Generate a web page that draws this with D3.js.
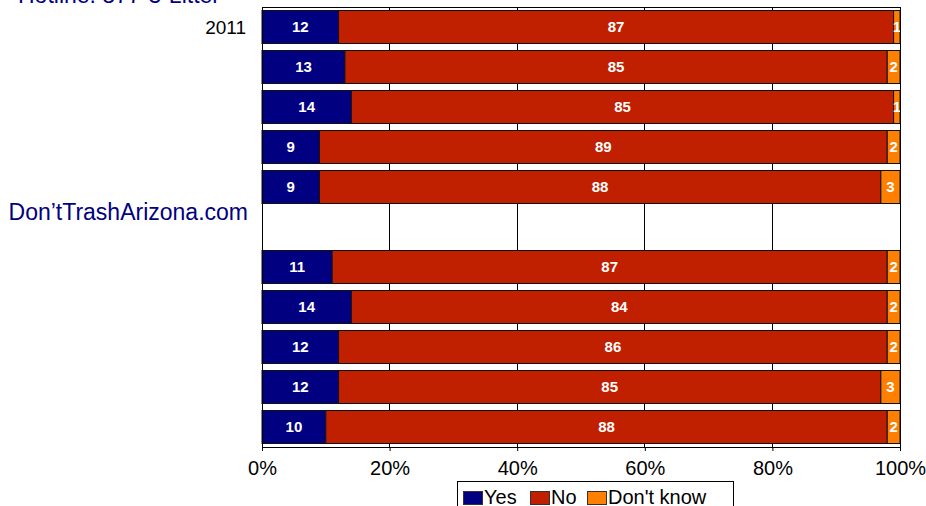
<!DOCTYPE html>
<html>
<head>
<meta charset="utf-8">
<script src="https://cdn.jsdelivr.net/npm/d3@7/dist/d3.min.js"></script>
<style>
  html, body { margin: 0; padding: 0; background: #fff; }
  svg { display: block; font-family: "Liberation Sans", Arial, sans-serif; }
</style>
</head>
<body>
<svg id="chart" width="926" height="506"></svg>
<script>
// ---- data ----
const rowLabels = ["2011", "", "", "", "", "Don\u2019tTrashArizona.com", "", "", "", "", ""];
const yesValues = [12, 13, 14, 9, 9, null, 11, 14, 12, 12, 10];
const noValues  = [87, 85, 85, 89, 88, null, 87, 84, 86, 85, 88];
const dkValues  = [1, 2, 1, 2, 3, null, 2, 2, 2, 3, 2];
const seriesNames = ["Yes", "No", "Don't know"];
const seriesColors = ["#000080", "#C02000", "#FF8000"];
const xTicks = [0, 20, 40, 60, 80, 100];
const headerText = "Hotline: 877-3-Litter";

// ---- layout ----
const svg = d3.select("#chart");
const plot = { left: 262, right: 900, top: 7, bottom: 447 };
const rows = rowLabels.map((d, i) => i);

const x = d3.scaleLinear().domain([0, 100]).range([plot.left, plot.right]);
const y = d3.scaleBand().domain(rows).range([plot.top, plot.bottom])
  .paddingInner(0.175).paddingOuter(0.0875);

const data = rows.map(i => ({ i, Yes: yesValues[i], No: noValues[i], "Don't know": dkValues[i] }))
  .filter(d => d.Yes !== null);
const stack = d3.stack().keys(seriesNames)(data);

// gridlines
svg.append("g").selectAll("line").data(xTicks.slice(1, -1)).join("line")
  .attr("x1", d => x(d)).attr("x2", d => x(d))
  .attr("y1", plot.top).attr("y2", plot.bottom)
  .attr("stroke", "#000").attr("stroke-width", 1).attr("shape-rendering", "crispEdges");

// bars
const layers = svg.append("g").selectAll("g").data(stack).join("g")
  .attr("fill", (d, k) => seriesColors[k]);
layers.selectAll("rect").data(d => d).join("rect")
  .attr("x", d => x(d[0]))
  .attr("y", d => y(d.data.i))
  .attr("width", d => x(d[1]) - x(d[0]))
  .attr("height", y.bandwidth())
  .attr("stroke", "#111").attr("stroke-width", 1);

// bar value labels
svg.append("defs").append("clipPath").attr("id", "plotclip").append("rect")
  .attr("x", plot.left).attr("y", plot.top).attr("width", plot.right - plot.left).attr("height", plot.bottom - plot.top);
const labels = svg.append("g").attr("clip-path", "url(#plotclip)");
stack.forEach(layer => {
  labels.selectAll(null).data(layer).join("text")
    .attr("x", d => (x(d[0]) + x(d[1])) / 2)
    .attr("y", d => y(d.data.i) + y.bandwidth() / 2)
    .attr("dy", "0.36em")
    .attr("text-anchor", "middle")
    .attr("fill", "#fff").attr("font-weight", "bold").attr("font-size", 15)
    .text(d => d[1] - d[0]);
});

// plot border
svg.append("rect")
  .attr("x", plot.left).attr("y", plot.top)
  .attr("width", plot.right - plot.left).attr("height", plot.bottom - plot.top)
  .attr("fill", "none").attr("stroke", "#000").attr("stroke-width", 1).attr("shape-rendering", "crispEdges");

// x axis
const xAxis = d3.axisBottom(x).tickValues(xTicks).tickFormat(d => d + "%").tickSize(4).tickPadding(10);
const ax = svg.append("g").attr("transform", `translate(0,${plot.bottom})`).call(xAxis);
ax.select(".domain").remove();
ax.selectAll("line").attr("stroke", "#000");
ax.selectAll("text").attr("font-size", 20).attr("fill", "#000")
  .attr("font-family", "\"Liberation Sans\", Arial, sans-serif");

// row labels
svg.append("g").selectAll("text").data(rows.filter(i => rowLabels[i] !== "")).join("text")
  .attr("x", i => i === 5 ? 248 : 246)
  .attr("y", i => y(i) + y.bandwidth() / 2 - (i === 5 ? 15 : 0))
  .attr("dy", "0.36em")
  .attr("text-anchor", "end")
  .attr("font-size", i => i === 5 ? 23 : 19)
  .attr("fill", i => i === 5 ? "#000080" : "#000")
  .text(i => rowLabels[i]);

// header (cut off at top)
svg.append("text").attr("x", 18).attr("y", 3)
  .attr("font-size", 23).attr("fill", "#000080").text(headerText);

// legend
const lg = svg.append("g");
lg.append("rect").attr("x", 457.5).attr("y", 481.5).attr("width", 276).attr("height", 30)
  .attr("fill", "#fff").attr("stroke", "#000");
const legendX = [463, 530, 587];
seriesNames.forEach((s, k) => {
  lg.append("rect").attr("x", legendX[k] + 0.5).attr("y", 491.5).attr("width", 19).attr("height", 13)
    .attr("fill", seriesColors[k]).attr("stroke", "#333").attr("stroke-width", 1);
  lg.append("text").attr("x", legendX[k] + 21).attr("y", 504)
    .attr("font-size", 20).attr("fill", "#000").text(s);
});
</script>
</body>
</html>
